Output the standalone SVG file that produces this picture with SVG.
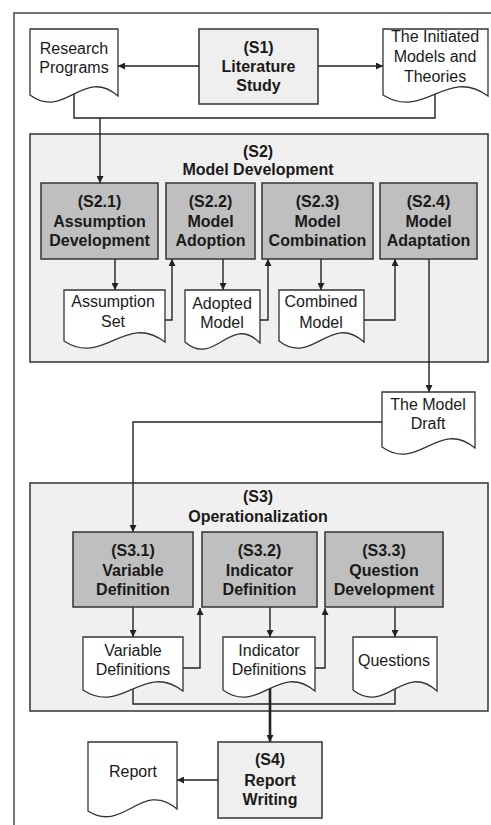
<svg xmlns="http://www.w3.org/2000/svg" width="491" height="825" viewBox="0 0 491 825">
<style>
  .frame{fill:#fff;stroke:#4a4a4a;stroke-width:1.5}
  .cont{fill:#f0f0f0;stroke:#333;stroke-width:1.5}
  .light{fill:#efefef;stroke:#333;stroke-width:1.5}
  .dark{fill:#bfbfbf;stroke:#333;stroke-width:1.5}
  .doc{fill:#fff;stroke:#333;stroke-width:1.3}
  .edge{fill:none;stroke:#222;stroke-width:1.4}
  .thick{fill:none;stroke:#222;stroke-width:2.6}
  text{font-family:"Liberation Sans",Arial,sans-serif;font-size:16px;fill:#1a1a1a;text-anchor:middle}
  .b{font-weight:bold}
</style>
<defs>
  <marker id="ah" markerUnits="userSpaceOnUse" markerWidth="8" markerHeight="7" refX="7" refY="3.5" orient="auto">
    <path d="M0,0 L7,3.5 L0,7 Z" fill="#222"/>
  </marker>
</defs>
<rect class="frame" x="14" y="13" width="490" height="820"/>
<g id="S2">
  <rect class="cont" x="30" y="134" width="458" height="228"/>
  <text class="b" x="258" y="157">(S2)</text>
  <text class="b" x="258" y="175">Model Development</text>
</g>
<g id="S3">
  <rect class="cont" x="30" y="483" width="458" height="228"/>
  <text class="b" x="258" y="502">(S3)</text>
  <text class="b" x="258" y="522">Operationalization</text>
</g>
<g id="connectors">
  <path class="edge" d="M199,66 H118" marker-end="url(#ah)"/>
  <path class="edge" d="M318,66 H383" marker-end="url(#ah)"/>
  <path class="edge" d="M74,94 V118 H435 V94"/>
  <path class="edge" d="M100,118 V183" marker-end="url(#ah)"/>
  <path class="edge" d="M115,259 V290" marker-end="url(#ah)"/>
  <path class="edge" d="M165,320 H172 V259" marker-end="url(#ah)"/>
  <path class="edge" d="M223,259 V290" marker-end="url(#ah)"/>
  <path class="edge" d="M260,320 H268 V259" marker-end="url(#ah)"/>
  <path class="edge" d="M321,259 V290" marker-end="url(#ah)"/>
  <path class="edge" d="M364,320 H395 V259" marker-end="url(#ah)"/>
  <path class="edge" d="M429,259 V392" marker-end="url(#ah)"/>
  <path class="edge" d="M382,422 H133 V532" marker-end="url(#ah)"/>
  <path class="edge" d="M133,607 V637" marker-end="url(#ah)"/>
  <path class="edge" d="M183,668 H200 V608" marker-end="url(#ah)"/>
  <path class="edge" d="M270,607 V637" marker-end="url(#ah)"/>
  <path class="edge" d="M315,668 H325 V608" marker-end="url(#ah)"/>
  <path class="edge" d="M395,607 V637" marker-end="url(#ah)"/>
  <path class="edge" d="M133,688 V704 H395 V688"/>
  <path class="thick" d="M270,688 V742" marker-end="url(#ah)"/>
  <path class="edge" d="M218,780 H177" marker-end="url(#ah)"/>
</g>
<g id="S1">
  <rect class="light" x="199" y="29" width="119" height="75"/>
  <text class="b" x="258.5" y="53">(S1)</text>
  <text class="b" x="258.5" y="72">Literature</text>
  <text class="b" x="258.5" y="91">Study</text>
</g>
<g id="research-programs">
  <path class="doc" d="M30,29 H118 V96 C83,66 65,121 30,95 Z"/>
  <text x="74" y="53.5">Research</text>
  <text x="74" y="73">Programs</text>
</g>
<g id="initiated-models">
  <path class="doc" d="M383,29 H488 V96 C446,66 425,121 383,95 Z"/>
  <text x="435" y="42">The Initiated</text>
  <text x="435" y="62">Models and</text>
  <text x="435" y="82">Theories</text>
</g>
<g id="S2-1">
  <rect class="dark" x="41" y="183" width="117" height="76"/>
  <text class="b" x="99.5" y="207">(S2.1)</text>
  <text class="b" x="99.5" y="226.5">Assumption</text>
  <text class="b" x="99.5" y="246">Development</text>
</g>
<g id="S2-2">
  <rect class="dark" x="166" y="183" width="89" height="76"/>
  <text class="b" x="210.5" y="207">(S2.2)</text>
  <text class="b" x="210.5" y="226.5">Model</text>
  <text class="b" x="210.5" y="246">Adoption</text>
</g>
<g id="S2-3">
  <rect class="dark" x="262" y="183" width="111" height="76"/>
  <text class="b" x="317.5" y="207">(S2.3)</text>
  <text class="b" x="317.5" y="226.5">Model</text>
  <text class="b" x="317.5" y="246">Combination</text>
</g>
<g id="S2-4">
  <rect class="dark" x="380" y="183" width="97" height="76"/>
  <text class="b" x="428.5" y="207">(S2.4)</text>
  <text class="b" x="428.5" y="226.5">Model</text>
  <text class="b" x="428.5" y="246">Adaptation</text>
</g>
<g id="assumption-set">
  <path class="doc" d="M64,290 H165 V342 C124.6,312 104.4,367 64,341 Z"/>
  <text x="113" y="307">Assumption</text>
  <text x="113" y="326.5">Set</text>
</g>
<g id="adopted-model">
  <path class="doc" d="M185,290 H260 V343 C230,313 215,368 185,342 Z"/>
  <text x="222" y="308.5">Adopted</text>
  <text x="222" y="328">Model</text>
</g>
<g id="combined-model">
  <path class="doc" d="M279,290 H364 V342 C330,312 313,367 279,341 Z"/>
  <text x="321" y="307">Combined</text>
  <text x="321" y="327.5">Model</text>
</g>
<g id="model-draft">
  <path class="doc" d="M382,392 H475 V448 C437.8,418 419.2,473 382,447 Z"/>
  <text x="428" y="410">The Model</text>
  <text x="428" y="429">Draft</text>
</g>
<g id="S3-1">
  <rect class="dark" x="73" y="532" width="120" height="75"/>
  <text class="b" x="133" y="556">(S3.1)</text>
  <text class="b" x="133" y="576">Variable</text>
  <text class="b" x="133" y="595">Definition</text>
</g>
<g id="S3-2">
  <rect class="dark" x="202" y="532" width="115" height="75"/>
  <text class="b" x="259.5" y="556">(S3.2)</text>
  <text class="b" x="259.5" y="576">Indicator</text>
  <text class="b" x="259.5" y="595">Definition</text>
</g>
<g id="S3-3">
  <rect class="dark" x="325" y="532" width="118" height="75"/>
  <text class="b" x="384" y="556">(S3.3)</text>
  <text class="b" x="384" y="576">Question</text>
  <text class="b" x="384" y="595">Development</text>
</g>
<g id="variable-definitions">
  <path class="doc" d="M83,637 H183 V691 C143,661 123,716 83,690 Z"/>
  <text x="133" y="656">Variable</text>
  <text x="133" y="675">Definitions</text>
</g>
<g id="indicator-definitions">
  <path class="doc" d="M223,637 H315 V691 C278.2,661 259.8,716 223,690 Z"/>
  <text x="269" y="656">Indicator</text>
  <text x="269" y="675">Definitions</text>
</g>
<g id="questions">
  <path class="doc" d="M353,637 H437 V691 C403.4,661 386.6,716 353,690 Z"/>
  <text x="394" y="666">Questions</text>
</g>
<g id="S4">
  <rect class="light" x="218" y="742" width="104" height="76"/>
  <text class="b" x="270" y="765">(S4)</text>
  <text class="b" x="270" y="785.5">Report</text>
  <text class="b" x="270" y="805">Writing</text>
</g>
<g id="report">
  <path class="doc" d="M88,742 H177 V809 C141.4,779 123.6,834 88,811 Z"/>
  <text x="133" y="777">Report</text>
</g>
</svg>
